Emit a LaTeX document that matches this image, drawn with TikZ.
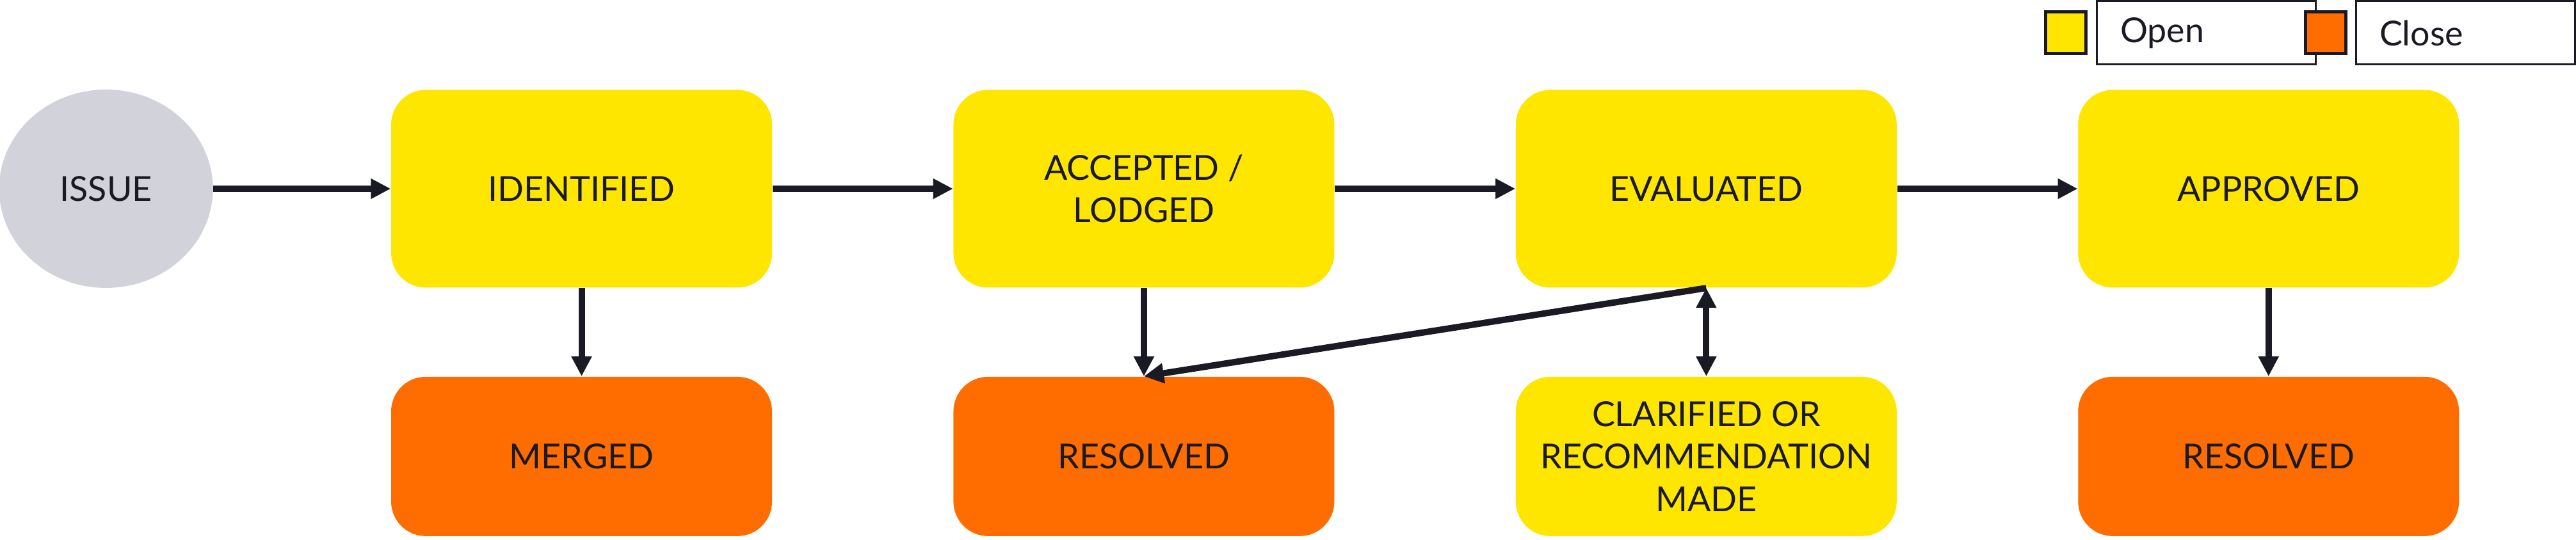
\documentclass[tikz,border=0pt]{standalone}
\usepackage{fontspec}
\setmainfont{Lato}
\usepackage{xcolor}
\usetikzlibrary{positioning}
\usetikzlibrary{shapes.geometric}
\usetikzlibrary{arrows.meta}
\definecolor{eyyellow}{HTML}{FFE600}
\definecolor{eyorange}{HTML}{FF6D00}
\definecolor{eygrey}{HTML}{D2D2DA}
\definecolor{eydark}{HTML}{1A1A24}

\begin{document}
\begin{tikzpicture}[
    font=\fontsize{15.3}{19}\selectfont,
    node distance=2.82cm,
    openbox/.style={fill=eyyellow, rounded corners=0.54cm, minimum width=5.95cm,
      minimum height=3.09cm, align=center, text=eydark, inner sep=0pt},
    closebox/.style={openbox, fill=eyorange, minimum height=2.49cm},
    smallbox/.style={openbox, minimum height=2.49cm},
    flow/.style={draw=eydark, line width=0.1cm, -{Triangle[length=0.31cm,width=0.3cm]}},
    keybox/.style={draw=eydark, line width=0.05cm, minimum width=0.63cm, minimum height=0.65cm, inner sep=0pt},
    keylabel/.style={draw=eydark, line width=0.03cm, fill=white, minimum width=3.42cm,
      minimum height=0.99cm, text width=2.68cm, inner xsep=0.37cm, align=left, text=eydark},
  ]
    \useasboundingbox (0,0) rectangle (40.24,-8.44);

    \node[openbox] (identified) at (9.085,-2.95) {IDENTIFIED};
    \node[openbox, right=of identified] (accepted) {ACCEPTED /\\LODGED};
    \node[openbox, right=of accepted] (evaluated) {EVALUATED};
    \node[openbox, right=of evaluated] (approved) {APPROVED};
    \node[ellipse, fill=eygrey, minimum width=3.34cm, minimum height=3.1cm, inner sep=0pt,
      text=eydark, left=2.77cm of identified] (issue) {ISSUE};

    \node[closebox, below=1.38cm of identified] (merged) {MERGED};
    \node[closebox, below=1.38cm of accepted] (resolved) {RESOLVED};
    \node[smallbox, below=1.38cm of evaluated] (clarified) {CLARIFIED OR\\RECOMMENDATION\\MADE};
    \node[closebox, below=1.38cm of approved] (resolvedb) {RESOLVED};

    \draw[flow] (issue) -- (identified);
    \draw[flow] (identified) -- (accepted);
    \draw[flow] (accepted) -- (evaluated);
    \draw[flow] (evaluated) -- (approved);
    \draw[flow] (identified) -- (merged);
    \draw[flow] (accepted) -- (resolved);
    \draw[flow] (evaluated.south) -- (resolved.north);
    \draw[flow, {Triangle[length=0.31cm,width=0.3cm]}-{Triangle[length=0.31cm,width=0.3cm]}] (evaluated.south) -- (clarified.north);
    \draw[flow] (approved) -- (resolvedb);

    \node[keylabel] (openkey) at (34.46,-0.515) {Open};
    \node[keylabel] (closekey) at (38.51,-0.515) {Close};
    \node[keybox, fill=eyyellow] (openmark) at (32.27,-0.51) {};
    \node[keybox, fill=eyorange] (closemark) at (36.325,-0.51) {};
\end{tikzpicture}
\end{document}
